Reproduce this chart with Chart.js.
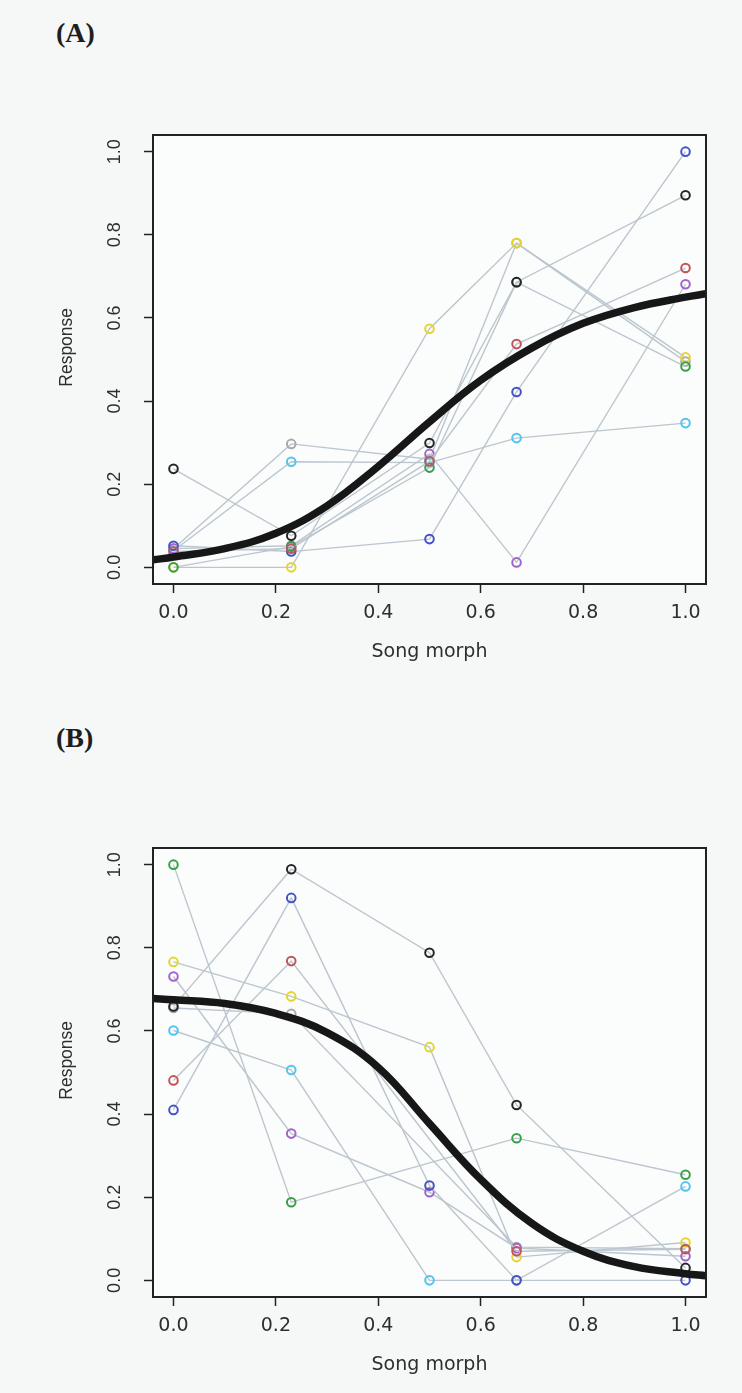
<!DOCTYPE html>
<html>
<head>
<meta charset="utf-8">
<script src="https://cdn.jsdelivr.net/npm/chart.js@4.4.1/dist/chart.umd.min.js"></script>
<style>
  html, body { margin: 0; padding: 0; background: #f6f7f7; }
  #page { position: relative; width: 742px; height: 1393px; overflow: hidden; }
  .panel { position: absolute; left: 0; width: 742px; height: 680px; }
  .tag { position: absolute; font-family: "Liberation Serif", serif; font-weight: bold; font-size: 28px; color: #1e1e1e; line-height: 30px; }
</style>
</head>
<body>
<div id="page">
  <div class="tag" style="left:56px; top:18px;">(A)</div>
  <div class="panel" style="top:0px;"><canvas id="chartA"></canvas></div>
  <div class="tag" style="left:56px; top:723px;">(B)</div>
  <div class="panel" style="top:713px;"><canvas id="chartB"></canvas></div>
</div>
<script>
// song morph steps played to each bird
const morphX = [0, 0.23, 0.5, 0.67, 1.0];
const axisTicks = [0, 0.2, 0.4, 0.6, 0.8, 1.0];

// (A) response per bird
const aBlack  = [0.237, 0.076, 0.299, 0.686, 0.895];
const aRed    = [0.038, 0.045, 0.255, 0.537, 0.720];
const aGreen  = [0.000, 0.050, 0.240, 0.686, 0.483];
const aBlue   = [0.052, 0.038, 0.068, 0.422, 1.000];
const aCyan   = [0.040, 0.254, 0.252, 0.311, 0.347];
const aPurple = [0.045, 0.052, 0.273, 0.012, 0.681];
const aYellow = [0.000, 0.000, 0.574, 0.780, 0.505];
const aGray   = [0.045, 0.297, 0.260, 0.780, 0.495];

// (B) response per bird (null = not tested)
const bBlack  = [0.659, 0.989, 0.788, 0.422, 0.030];
const bRed    = [0.481, 0.768, null, 0.070, 0.075];
const bGreen  = [1.000, 0.188, null, 0.342, 0.254];
const bBlue   = [0.410, 0.920, 0.228, 0.000, 0.000];
const bCyan   = [0.601, 0.506, 0.000, 0.000, 0.226];
const bPurple = [0.731, 0.353, 0.212, 0.078, 0.058];
const bYellow = [0.766, 0.683, 0.561, 0.056, 0.091];
const bGray   = [0.655, 0.641, null, 0.080, 0.076];

// fitted curves
const fitX = [-0.04, 0, 0.1, 0.2, 0.3, 0.4, 0.5, 0.6, 0.7, 0.8, 0.9, 1.0, 1.04];
const fitA = [0.018, 0.025, 0.045, 0.082, 0.148, 0.243, 0.35, 0.45, 0.528, 0.587, 0.625, 0.65, 0.658];
const fitB = [0.678, 0.675, 0.666, 0.642, 0.596, 0.512, 0.377, 0.243, 0.137, 0.07, 0.033, 0.016, 0.011];

const birdColors = ['#262626', '#c0565a', '#38a048', '#4652c4', '#52c4ee', '#a064cc', '#e6d62a', '#a9a9a9'];

const boxPlugin = {
    id: 'plotBox',
    beforeDraw: function (chart) {
        const a = chart.chartArea, ctx = chart.ctx;
        ctx.save();
        ctx.fillStyle = '#fbfcfc';
        ctx.fillRect(a.left, a.top, a.right - a.left, a.bottom - a.top);
        ctx.restore();
    },
    afterDatasetsDraw: function (chart) {
        const a = chart.chartArea, ctx = chart.ctx;
        ctx.save();
        ctx.strokeStyle = '#222';
        ctx.lineWidth = 2;
        ctx.strokeRect(a.left, a.top, a.right - a.left, a.bottom - a.top);
        ctx.restore();
    }
};

function fixedTicks(scale) {
    scale.ticks = axisTicks.map(function (v) { return { value: v }; });
}

function makePanel(id, series, fitY) {
    const datasets = [{
        data: fitX.map(function (x, i) { return { x: x, y: fitY[i] }; }),
        borderColor: '#171717',
        borderWidth: 7.5,
        pointRadius: 0,
        tension: 0.4,
        order: 0
    }];

    series.forEach(function (vals, k) {
        datasets.push({
            data: morphX.map(function (x, i) { return { x: x, y: vals[i] }; }),
            borderColor: '#bcc6cf',
            borderWidth: 1.4,
            pointRadius: 4.3,
            pointBorderWidth: 2,
            pointBorderColor: birdColors[k],
            pointBackgroundColor: 'rgba(0,0,0,0)',
            spanGaps: true,
            order: 1 + k
        });
    });

    return new Chart(document.getElementById(id), {
        type: 'line',
        data: { datasets: datasets },
        plugins: [boxPlugin],
        options: {
            responsive: true,
            maintainAspectRatio: false,
            animation: false,
            devicePixelRatio: 1,
            events: [],
            layout: { padding: { top: 135, right: 36, left: 0, bottom: 0 } },
            plugins: { legend: { display: false }, tooltip: { enabled: false } },
            scales: {
                x: {
                    type: 'linear',
                    min: -0.04,
                    max: 1.04,
                    afterBuildTicks: fixedTicks,
                    afterFit: function (s) { s.height = 96; },
                    border: { display: false },
                    grid: { drawOnChartArea: false, tickLength: 9, tickWidth: 1.5, tickColor: '#222' },
                    ticks: {
                        autoSkip: false,
                        maxRotation: 0,
                        padding: 9,
                        color: '#2e2e2e',
                        font: { family: 'DejaVu Sans', size: 19 },
                        callback: function (v) { return v.toFixed(1); }
                    },
                    title: {
                        display: true,
                        text: 'Song morph',
                        color: '#2e2e2e',
                        font: { family: 'DejaVu Sans', size: 19 },
                        padding: { top: 0, bottom: 16.6 }
                    }
                },
                y: {
                    type: 'linear',
                    min: -0.04,
                    max: 1.04,
                    afterBuildTicks: fixedTicks,
                    afterFit: function (s) { s.width = 153; },
                    border: { display: false },
                    grid: { drawOnChartArea: false, tickLength: 9, tickWidth: 1.5, tickColor: '#222' },
                    ticks: {
                        minRotation: 90,
                        maxRotation: 90,
                        crossAlign: 'center',
                        padding: 16.5,
                        color: '#2e2e2e',
                        font: { family: 'Liberation Sans', size: 18 },
                        callback: function (v) { return v.toFixed(1); }
                    },
                    title: {
                        display: true,
                        text: '     Response',
                        color: '#2e2e2e',
                        font: { family: 'Liberation Sans', size: 17.5 },
                        padding: { top: 56.5, bottom: 0 }
                    }
                }
            }
        }
    });
}

makePanel('chartA', [aBlack, aRed, aGreen, aBlue, aCyan, aPurple, aYellow, aGray], fitA);
makePanel('chartB', [bBlack, bRed, bGreen, bBlue, bCyan, bPurple, bYellow, bGray], fitB);
</script>
</body>
</html>
